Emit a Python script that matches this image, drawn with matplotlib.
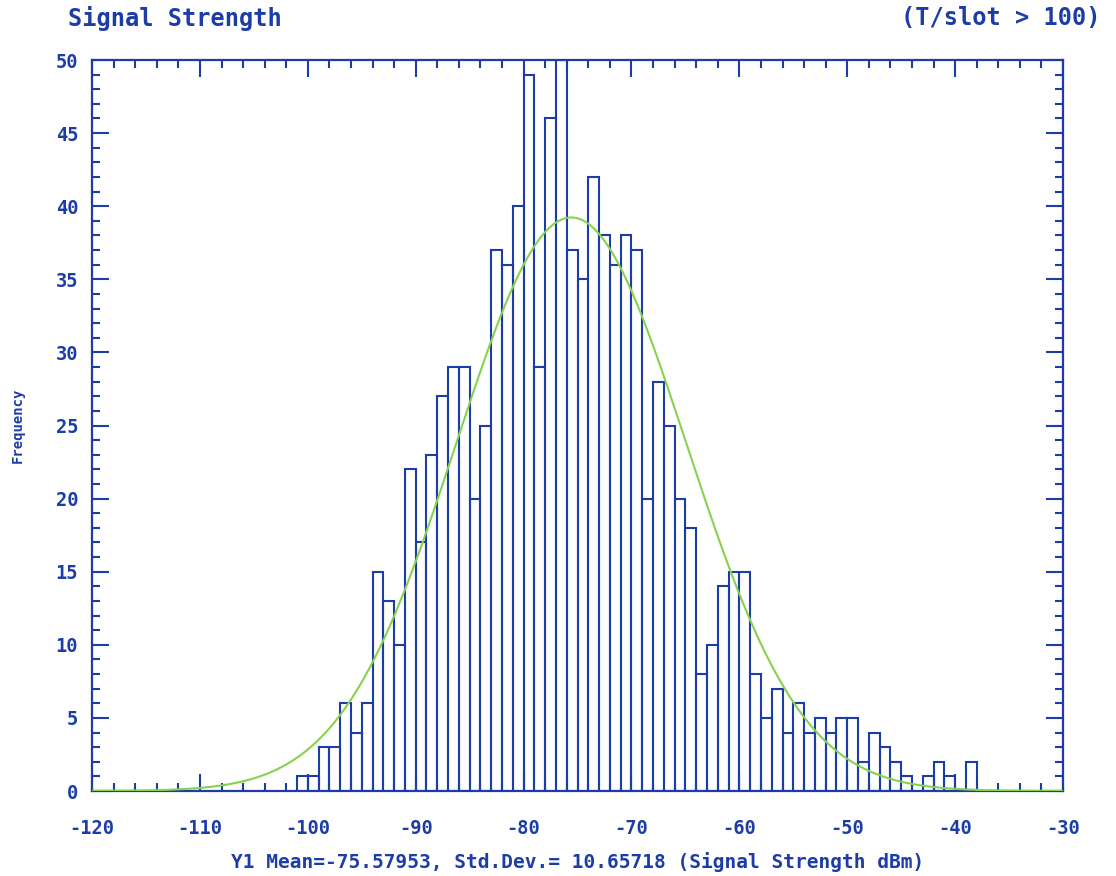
import numpy as np
import matplotlib.pyplot as plt
from matplotlib.ticker import MultipleLocator

plt.rcParams['axes.unicode_minus'] = False

# histogram counts, 1 dBm bins, left edge of each bin
bin_left = list(range(-101, -38))
counts = [1, 1, 3, 3, 6, 4, 6, 15, 13, 10,
          22, 17, 23, 27, 29, 29, 20, 25, 37, 36,
          40, 49, 29, 46, 50, 37, 35, 42, 38, 36,
          38, 37, 20, 28, 25, 20, 18, 8, 10, 14,
          15, 15, 8, 5, 7, 4, 6, 4, 5, 4,
          5, 5, 2, 4, 3, 2, 1, 0, 1, 2,
          1, 0, 2]

MEAN = -75.57953
STD = 10.65718

x_ticks = list(range(-120, -29, 10))
y_ticks = list(range(0, 51, 5))

BLUE = '#1c3ca8'
GREEN = '#86d24e'
FONT = 'DejaVu Sans Mono'

fig = plt.figure(figsize=(11.16, 8.76), dpi=100)
ax = fig.add_axes([0.0825, 0.097, 0.870, 0.8345])

ax.bar(bin_left, counts, width=1, align='edge', facecolor='none',
       edgecolor=BLUE, linewidth=1.5, zorder=2)

# normal fit curve scaled to the number of samples
n = sum(counts)
xs = np.linspace(-120, -30, 600)
ys = n * np.exp(-0.5 * ((xs - MEAN) / STD) ** 2) / (STD * np.sqrt(2 * np.pi))
ax.plot(xs, ys, color=GREEN, linewidth=1.5, zorder=3)

ax.set_xlim(-120, -30)
ax.set_ylim(0, 50)
ax.set_xticks(x_ticks)
ax.set_yticks(y_ticks)
ax.xaxis.set_minor_locator(MultipleLocator(2))
ax.yaxis.set_minor_locator(MultipleLocator(1))

for s in ax.spines.values():
    s.set_color(BLUE)
    s.set_linewidth(1.6)

ax.tick_params(which='both', direction='in', top=True, right=True, color=BLUE, width=1.5)
ax.tick_params(which='major', length=12)
ax.tick_params(which='minor', length=6)
ax.tick_params(axis='x', which='major', pad=20, labelcolor=BLUE, labelsize=13.5)
ax.tick_params(axis='y', which='major', pad=10, labelcolor=BLUE, labelsize=13.5)
for lab in ax.get_xticklabels() + ax.get_yticklabels():
    lab.set_fontfamily(FONT)
    lab.set_fontweight('bold')

ax.set_xlabel('Y1 Mean=-75.57953, Std.Dev.= 10.65718 (Signal Strength dBm)',
              color=BLUE, fontsize=14, fontweight='bold', family=FONT, labelpad=10)
ax.set_ylabel('Frequency', color=BLUE, fontsize=10, fontweight='bold', family=FONT, labelpad=22)

fig.text(0.061, 0.979, 'Signal Strength', color=BLUE, fontsize=17, fontweight='bold',
         family=FONT, ha='left', va='center')
fig.text(0.986, 0.979, '(T/slot > 100)', color=BLUE, fontsize=17, fontweight='bold',
         family=FONT, ha='right', va='center')

fig.savefig('out.png', dpi=100, facecolor='white')
